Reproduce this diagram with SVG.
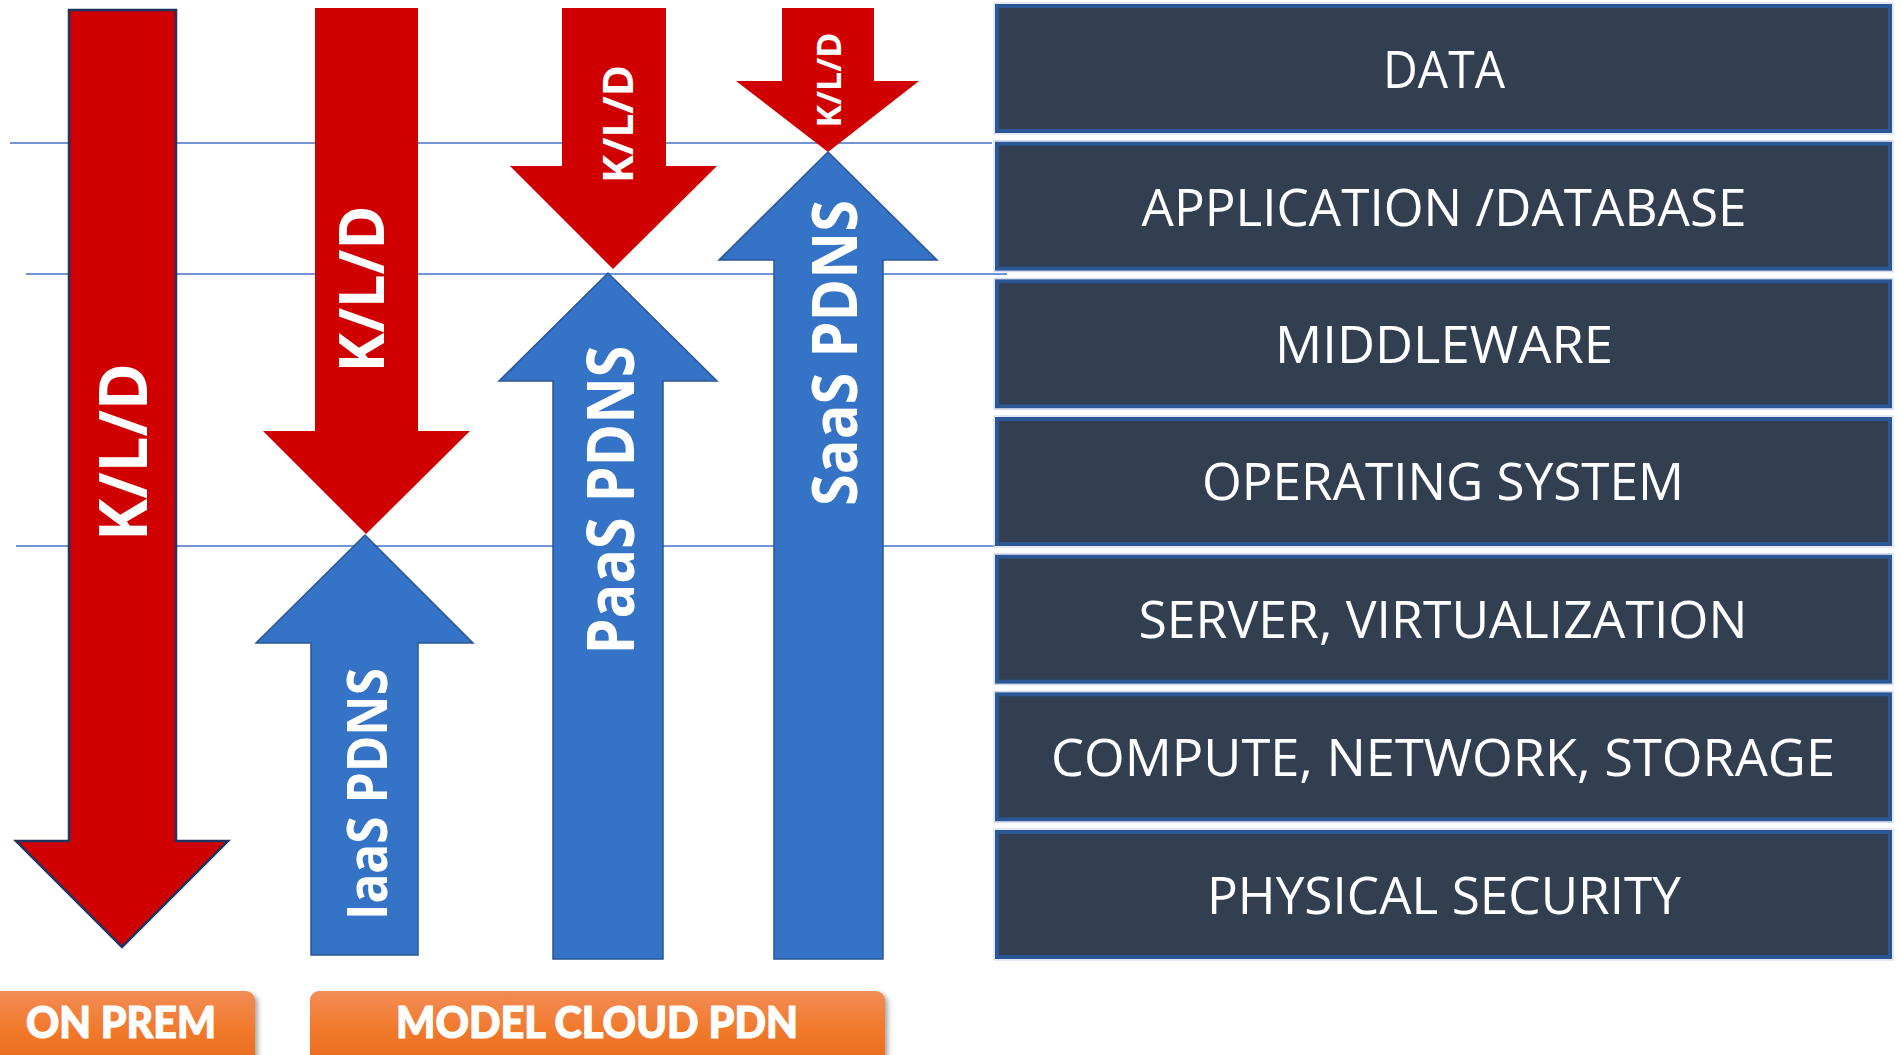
<svg xmlns="http://www.w3.org/2000/svg" width="1901" height="1055" viewBox="0 0 1901 1055">
  <defs>
    <linearGradient id="orangeFill" x1="0" y1="0" x2="0" y2="1">
      <stop offset="0" stop-color="#f28d55"/>
      <stop offset="0.5" stop-color="#f27a2c"/>
      <stop offset="1" stop-color="#e6691c"/>
    </linearGradient>
    <filter id="tagShadow" x="-5%" y="-20%" width="115%" height="160%">
      <feDropShadow dx="3" dy="3" stdDeviation="2.5" flood-color="#000" flood-opacity="0.35"/>
    </filter>
    <style>
      .guide { stroke: #4472c4; stroke-width: 1.6; fill: none; }
      .down { fill: #d00000; }
      .down-edged { fill: #d00000; stroke: #1f3560; stroke-width: 2.5; stroke-linejoin: miter; }
      .up { fill: #3573c6; stroke: #2c5597; stroke-width: 1.5; stroke-linejoin: miter; }
      .arrow-label { font-family: "Open Sans", "DejaVu Sans", sans-serif; font-weight: 700; fill: #ffffff; text-anchor: middle; }
      .layer-halo { fill: none; stroke: #c8d4ea; stroke-width: 1; }
      .layer-box { fill: #323f51; stroke: #2c5797; stroke-width: 4; }
      .layer-label { font-family: "Open Sans", "DejaVu Sans", sans-serif; font-weight: 400; font-size: 52px; fill: #ffffff; text-anchor: middle; }
      .tag-box { fill: url(#orangeFill); filter: url(#tagShadow); }
      .tag-label { font-family: Lato, "Open Sans", sans-serif; font-weight: 900; font-size: 44px; fill: #ffffff; stroke: #ffffff; stroke-width: 1.2; text-anchor: middle; }
    </style>
  </defs>

  <rect x="0" y="0" width="1901" height="1055" fill="#ffffff"/>

  <!-- level guide lines behind the arrows -->
  <g id="connectors">
    <line class="guide" x1="10" y1="143" x2="992" y2="143"/>
    <line class="guide" x1="26" y1="274" x2="1007" y2="274"/>
    <line class="guide" x1="16" y1="546" x2="995" y2="546"/>
  </g>

  <!-- on-premises: customer responsibility covers the whole stack -->
  <g id="onprem-kld">
    <polygon class="down-edged" points="69,10 176,10 176,841 228,841 122,947 16,841 69,841"/>
    <text class="arrow-label" font-size="66" textLength="178" lengthAdjust="spacingAndGlyphs" transform="translate(147,452) rotate(-90)">K/L/D</text>
  </g>

  <!-- IaaS column -->
  <g id="iaas-kld">
    <polygon class="down" points="315,8 418,8 418,431 470,431 366,534 263,431 315,431"/>
    <text class="arrow-label" font-size="62" textLength="167" lengthAdjust="spacingAndGlyphs" transform="translate(384,289) rotate(-90)">K/L/D</text>
  </g>
  <g id="iaas-pdns">
    <polygon class="up" points="365,535 473,643 418,643 418,955 311,955 311,643 256,643"/>
    <text class="arrow-label" font-size="55" textLength="252" lengthAdjust="spacingAndGlyphs" transform="translate(387,794) rotate(-90)">IaaS PDNS</text>
  </g>

  <!-- PaaS column -->
  <g id="paas-kld">
    <polygon class="down" points="562,8 666,8 666,166 717,166 613,269 510,166 562,166"/>
    <text class="arrow-label" font-size="42" textLength="118" lengthAdjust="spacingAndGlyphs" transform="translate(633,124) rotate(-90)">K/L/D</text>
  </g>
  <g id="paas-pdns">
    <polygon class="up" points="608,273 717,381 663,381 663,959 553,959 553,381 499,381"/>
    <text class="arrow-label" font-size="67" textLength="309" lengthAdjust="spacingAndGlyphs" transform="translate(634,500) rotate(-90)">PaaS PDNS</text>
  </g>

  <!-- SaaS column -->
  <g id="saas-kld">
    <polygon class="down" points="782,8 874,8 874,81 919,81 828,152 736,81 782,81"/>
    <text class="arrow-label" font-size="34" textLength="95" lengthAdjust="spacingAndGlyphs" transform="translate(841,80) rotate(-90)">K/L/D</text>
  </g>
  <g id="saas-pdns">
    <polygon class="up" points="828,152 937,260 883,260 883,959 774,959 774,260 719,260"/>
    <text class="arrow-label" font-size="62" textLength="306" lengthAdjust="spacingAndGlyphs" transform="translate(857,353) rotate(-90)">SaaS PDNS</text>
  </g>

  <!-- technology stack layers -->
  <g id="layer-data">
    <rect class="layer-halo" x="994" y="3" width="899" height="131"/>
    <rect class="layer-box" x="997" y="6" width="893" height="125"/>
    <text class="layer-label" x="1444" y="88" textLength="122" lengthAdjust="spacingAndGlyphs">DATA</text>
  </g>
  <g id="layer-application">
    <rect class="layer-halo" x="994" y="140.7" width="899" height="131"/>
    <rect class="layer-box" x="997" y="143.7" width="893" height="125"/>
    <text class="layer-label" x="1444" y="226" textLength="605" lengthAdjust="spacingAndGlyphs">APPLICATION /DATABASE</text>
  </g>
  <g id="layer-middleware">
    <rect class="layer-halo" x="994" y="278.3" width="899" height="131"/>
    <rect class="layer-box" x="997" y="281.3" width="893" height="125"/>
    <text class="layer-label" x="1444" y="363" textLength="338" lengthAdjust="spacingAndGlyphs">MIDDLEWARE</text>
  </g>
  <g id="layer-os">
    <rect class="layer-halo" x="994" y="416" width="899" height="131"/>
    <rect class="layer-box" x="997" y="419" width="893" height="125"/>
    <text class="layer-label" x="1443" y="500" textLength="482" lengthAdjust="spacingAndGlyphs">OPERATING SYSTEM</text>
  </g>
  <g id="layer-server">
    <rect class="layer-halo" x="994" y="553.7" width="899" height="131"/>
    <rect class="layer-box" x="997" y="556.7" width="893" height="125"/>
    <text class="layer-label" x="1443" y="638" textLength="609" lengthAdjust="spacingAndGlyphs">SERVER, VIRTUALIZATION</text>
  </g>
  <g id="layer-compute">
    <rect class="layer-halo" x="994" y="691.3" width="899" height="131"/>
    <rect class="layer-box" x="997" y="694.3" width="893" height="125"/>
    <text class="layer-label" x="1443" y="776" textLength="784" lengthAdjust="spacingAndGlyphs">COMPUTE, NETWORK, STORAGE</text>
  </g>
  <g id="layer-physical">
    <rect class="layer-halo" x="994" y="829" width="899" height="131"/>
    <rect class="layer-box" x="997" y="832" width="893" height="125"/>
    <text class="layer-label" x="1444" y="914" textLength="474" lengthAdjust="spacingAndGlyphs">PHYSICAL SECURITY</text>
  </g>

  <!-- column captions -->
  <g id="tag-onprem">
    <rect class="tag-box" x="-12" y="991" width="267" height="76" rx="9"/>
    <text class="tag-label" x="121" y="1038" textLength="190" lengthAdjust="spacingAndGlyphs">ON PREM</text>
  </g>
  <g id="tag-cloud">
    <rect class="tag-box" x="310" y="991" width="575" height="76" rx="9"/>
    <text class="tag-label" x="597" y="1038" textLength="402" lengthAdjust="spacingAndGlyphs">MODEL CLOUD PDN</text>
  </g>
</svg>
